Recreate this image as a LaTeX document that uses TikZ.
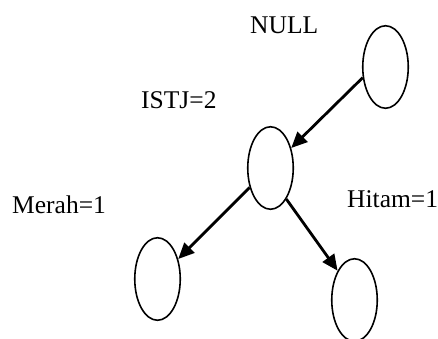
\documentclass[tikz,border=0pt]{standalone}
\usepackage{fontspec}
\setmainfont{Liberation Serif}
\usetikzlibrary{shapes.geometric, arrows.meta}
\tikzset{
  vertex/.style={draw, ellipse, line width=1.6pt, minimum width=45.5pt,
    minimum height=82.5pt, inner sep=0pt},
  edge/.style={line width=2.8pt, -{Triangle[length=16pt,width=14pt]}},
  lbl/.style={anchor=base west, inner sep=0pt, font=\fontsize{25.5}{29}\selectfont}
}
\begin{document}
\begin{tikzpicture}[x=1pt, y=-1pt]
\useasboundingbox (0,0) rectangle (438,338);
\clip (0,0) rectangle (438,338);

% the tree
\node[vertex] (root) at (385.5,67) {};
\node[vertex] (mid) at (270.5,168) {};
\node[vertex] (left) at (157.5,279) {};
\node[vertex] (right) at (354.5,300) {};

\draw[edge] (root.205) -- (mid.44);
\draw[edge] (mid.223) -- (left.44);
\draw[edge] (mid.297) -- (right.120);

% labels
\node[lbl] (tnull) at (250,33) {NULL};
\node[lbl] (tistj) at (141,108) {ISTJ=2};
\node[lbl] (tmerah) at (12,213) {Merah=1};
\node[lbl] (thitam) at (347,207) {Hitam=1};
\end{tikzpicture}
\end{document}
